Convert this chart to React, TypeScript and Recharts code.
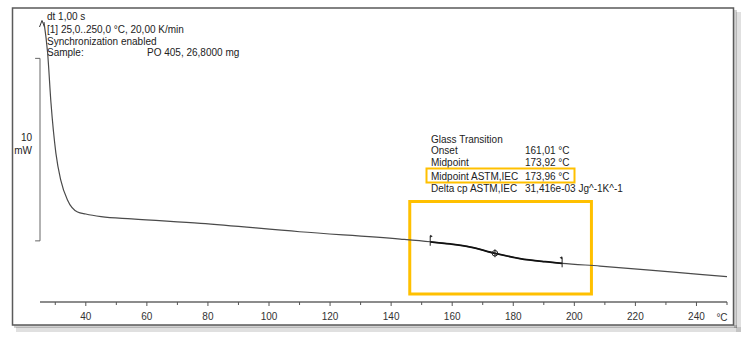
import {
  Customized,
  Line,
  LineChart,
  ReferenceArea,
  ReferenceDot,
  ReferenceLine,
  XAxis,
  YAxis,
} from 'recharts'

// DSC heating run (°C vs. relative mW)
const temperature = [
  26.3, 27.5, 28.6, 30.2, 31.8, 34.0, 37.3, 40, 45, 55, 77.6, 110, 143, 152.8, 159.3, 166, 174,
  182.2, 190.4, 196, 208.4, 224.7, 241, 250,
]
const heatFlow = [
  15.34, 13.64, 10.9, 8.16, 6.68, 5.59, 4.93, 4.82, 4.68, 4.55, 4.31, 3.85, 3.45, 3.3, 3.18, 3.01,
  2.67, 2.38, 2.21, 2.12, 1.97, 1.75, 1.51, 1.39,
]

// glass transition evaluation window (drawn heavier)
const evalFrom = 152.8
const evalTo = 196

const tickValues = [30, 40, 50, 60, 70, 80, 90, 100, 110, 120, 130, 140, 150, 160, 170, 180, 190, 200, 210, 220, 230, 240, 250]
const labelledTicks = [40, 60, 80, 100, 120, 140, 160, 180, 200, 220, 240]

const headerLines = ['dt 1,00 s', '[1] 25,0..250,0 °C, 20,00 K/min', 'Synchronization enabled', 'Sample:']
const sampleName = 'PO 405, 26,8000 mg'

const resultTitle = 'Glass Transition'
const resultLabels = ['Onset', 'Midpoint', 'Midpoint ASTM,IEC', 'Delta cp ASTM,IEC']
const resultValues = ['161,01 °C', '173,92 °C', '173,96 °C', '31,416e-03 Jg^-1K^-1']

const markerTemps = [152.8, 174, 196]
const markerFlows = [3.3, 2.67, 2.12]
const markerKinds = ['start', 'mid', 'end']

// 10 mW scale bar
const barLow = 3.35
const barHigh = 13.35

const data = temperature.map((t, i) => ({
  t,
  hf: heatFlow[i],
  evalHf: t >= evalFrom && t <= evalTo ? heatFlow[i] : null,
}))

const FONT = '"Liberation Sans", Arial, sans-serif'
const HIGHLIGHT = '#FFC000'

function AxisTick({ x, y, payload }: any) {
  const major = labelledTicks.includes(payload.value)
  return (
    <g>
      <line x1={x} x2={x} y1={y} y2={y + (major ? 4 : 3)} stroke="#555" />
      {major && (
        <text x={x} y={y + 18} textAnchor="middle" fontSize={10} fontFamily={FONT} fill="#333">
          {payload.value}
        </text>
      )}
    </g>
  )
}

function Marker({ cx, cy, kind }: any) {
  if (kind === 'mid') {
    return (
      <g stroke="#222" fill="none" strokeWidth={1}>
        <circle cx={cx} cy={cy} r={2.8} />
        <line x1={cx} x2={cx} y1={cy - 4} y2={cy + 4} />
      </g>
    )
  }
  const dir = kind === 'start' ? 1 : -1
  return (
    <g>
      <line x1={cx} x2={cx} y1={cy - 6} y2={cy + 4} stroke="#222" strokeWidth={1} />
      <path d={`M${cx},${cy - 7} L${cx + dir * 2.5},${cy - 5.5} L${cx},${cy - 4} Z`} fill="#222" />
    </g>
  )
}

function Decorations() {
  return (
    <g fontFamily={FONT} fill="#222" fontSize={10}>
      {/* window frame with drop shadow */}
      <rect x={736} y={12} width={5} height={320} fill="#000" opacity={0.12} />
      <rect x={16} y={327} width={725} height={5} fill="#000" opacity={0.12} />
      <rect x={734} y={10} width={3} height={318} fill="#000" opacity={0.18} />
      <rect x={14} y={325} width={723} height={3} fill="#000" opacity={0.18} />
      <rect x={12.5} y={8} width={721} height={317} fill="none" stroke="#5a5a5a" strokeWidth={1.5} />

      {/* exo arrow */}
      <path d="M39.5,27 L42,20.5 L44.5,27" fill="none" stroke="#333" strokeWidth={1} />

      {headerLines.map((s, i) => (
        <text key={s} x={47} y={[19.5, 32.5, 44.5, 55.5][i]}>
          {s}
        </text>
      ))}
      <text x={147} y={55.5}>
        {sampleName}
      </text>

      <text x={32} y={140.5} textAnchor="end">
        10
      </text>
      <text x={32} y={154} textAnchor="end">
        mW
      </text>

      <text x={431} y={142.5}>
        {resultTitle}
      </text>
      {resultLabels.map((s, i) => (
        <g key={s}>
          <text x={431} y={[154, 166, 180, 191.5][i]}>{s}</text>
          <text x={525} y={[154, 166, 180, 191.5][i]}>{resultValues[i]}</text>
        </g>
      ))}
      <rect x={426.5} y={168.5} width={148} height={14} fill="none" stroke={HIGHLIGHT} strokeWidth={2} />

      <text x={722} y={320.5} textAnchor="middle" fill="#333">
        °C
      </text>
    </g>
  )
}

export default function App() {
  return (
    <div style={{ position: 'absolute', left: 0, top: 0, width: 750, height: 352, background: '#fff' }}>
      <LineChart width={750} height={352} data={data} margin={{ top: 10, right: 23, bottom: 0, left: 40 }}>
        <XAxis
          dataKey="t"
          type="number"
          domain={[25, 250]}
          ticks={tickValues}
          interval={0}
          height={50}
          tickSize={0}
          tickMargin={0}
          tickLine={false}
          axisLine={{ stroke: '#666', strokeWidth: 1.3 }}
          tick={<AxisTick />}
        />
        <YAxis hide type="number" domain={[0, 16]} allowDataOverflow />
        <Customized component={<Decorations />} />
        <ReferenceLine
          segment={[
            { x: 25, y: barLow },
            { x: 25, y: barHigh },
          ]}
          stroke="#666"
          ifOverflow="visible"
        />
        <ReferenceLine
          segment={[
            { x: 23.4, y: barHigh },
            { x: 25, y: barHigh },
          ]}
          stroke="#666"
          ifOverflow="visible"
        />
        <ReferenceLine
          segment={[
            { x: 23.4, y: barLow },
            { x: 25, y: barLow },
          ]}
          stroke="#666"
          ifOverflow="visible"
        />
        <ReferenceArea
          x1={146.1}
          x2={205.6}
          y1={0.44}
          y2={5.51}
          fill="none"
          stroke={HIGHLIGHT}
          strokeWidth={3}
          ifOverflow="visible"
        />
        <Line
          type="monotone"
          dataKey="hf"
          stroke="#4a4a4a"
          strokeWidth={1.2}
          dot={false}
          isAnimationActive={false}
        />
        <Line
          type="monotone"
          dataKey="evalHf"
          stroke="#111"
          strokeWidth={1.8}
          dot={false}
          isAnimationActive={false}
        />
        {markerTemps.map((t, i) => (
          <ReferenceDot
            key={t}
            x={t}
            y={markerFlows[i]}
            ifOverflow="visible"
            shape={(p: any) => <Marker cx={p.cx} cy={p.cy} kind={markerKinds[i]} />}
          />
        ))}
      </LineChart>
    </div>
  )
}
